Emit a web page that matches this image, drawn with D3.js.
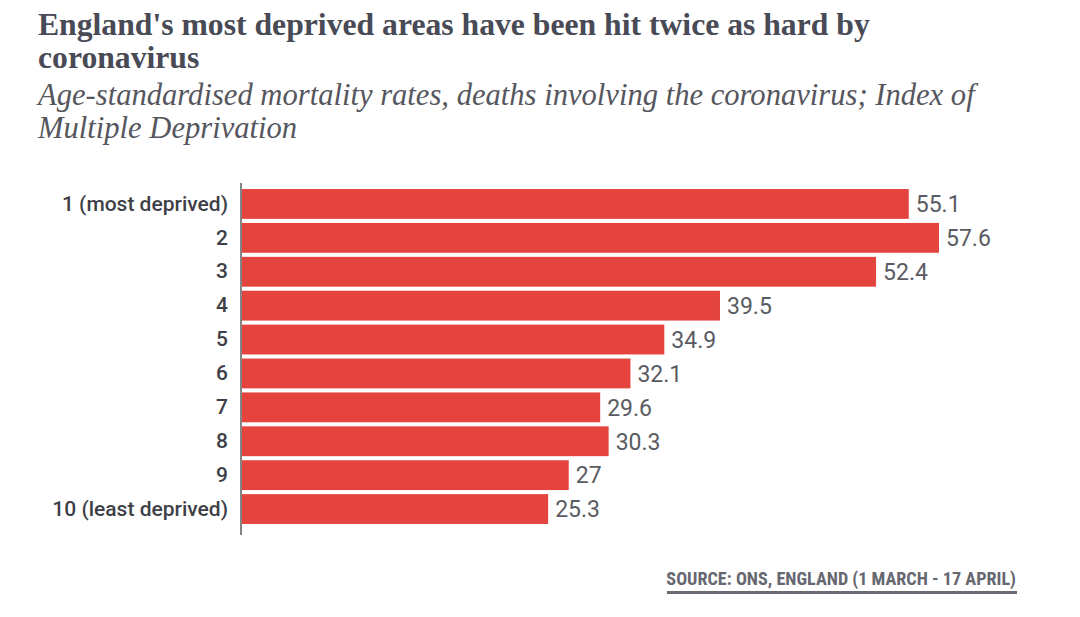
<!DOCTYPE html>
<html><head><meta charset="utf-8">
<script src="https://cdn.jsdelivr.net/npm/d3@7"></script>
<style>
body{margin:0;background:#fff;}
svg{display:block;}
</style></head>
<body>
<svg id="chart" width="1080" height="617"></svg>
<script>
const categories = ["1 (most deprived)","2","3","4","5","6","7","8","9","10 (least deprived)"];
const values = [55.1,57.6,52.4,39.5,34.9,32.1,29.6,30.3,27,25.3];
const valueLabels = ["55.1","57.6","52.4","39.5","34.9","32.1","29.6","30.3","27","25.3"];
const titleLines = ["England's most deprived areas have been hit twice as hard by","coronavirus"];
const subtitleLines = ["Age-standardised mortality rates, deaths involving the coronavirus; Index of","Multiple Deprivation"];
const sourceText = "SOURCE: ONS, ENGLAND (1 MARCH - 17 APRIL)";

const svg = d3.select("#chart");
const condensed = "'Liberation Sans Narrow','Roboto Condensed','Roboto',sans-serif";
const sans = "'Roboto','Noto Sans',sans-serif";
const serif = "'Liberation Serif','DejaVu Serif',serif";

function fitText(sel, target){
  const w = sel.node().getComputedTextLength();
  const fs = parseFloat(sel.attr("font-size"));
  sel.attr("font-size", fs*target/w);
}

const t1 = svg.append("text").attr("x",38).attr("y",35).attr("font-family",serif).attr("font-weight","bold")
  .attr("font-size",27).attr("fill","#484a56").text(titleLines[0]);
fitText(t1, 832);
const fsT = t1.attr("font-size");
svg.append("text").attr("x",38).attr("y",68).attr("font-family",serif).attr("font-weight","bold")
  .attr("font-size",fsT).attr("fill","#484a56").text(titleLines[1]);

const s1 = svg.append("text").attr("x",38).attr("y",105).attr("font-family",serif).attr("font-style","italic")
  .attr("font-size",27).attr("fill","#55565e").text(subtitleLines[0]);
fitText(s1, 937);
const fsS = s1.attr("font-size");
svg.append("text").attr("x",38).attr("y",138).attr("font-family",serif).attr("font-style","italic")
  .attr("font-size",fsS).attr("fill","#55565e").text(subtitleLines[1]);

const x0 = 242;
const x = d3.scaleLinear().domain([0,57.6]).range([x0, 939]);
const y = d3.scaleBand().domain(categories).range([187, 526]).paddingInner(0.12).paddingOuter(0.06);

const g = svg.append("g");
g.selectAll("rect.bar").data(values).enter().append("rect")
  .attr("class","bar")
  .attr("x", x(0))
  .attr("y",(d,i)=>y(categories[i]))
  .attr("width", d=>x(d)-x(0))
  .attr("height", y.bandwidth())
  .attr("fill","#e4443d");

g.selectAll("text.val").data(values).enter().append("text")
  .attr("class","val")
  .attr("x", d=>x(d)+7)
  .attr("y",(d,i)=>y(categories[i])+y.bandwidth()/2)
  .attr("dy","0.36em")
  .attr("font-family",sans)
  .attr("font-size",23)
  .attr("fill","#5a5b62")
  .text((d,i)=>valueLabels[i]);

const yAxis = d3.axisLeft(y).tickSize(0).tickPadding(13);
const ax = svg.append("g").attr("transform",`translate(${x0-1},0)`).call(yAxis);
ax.select(".domain").remove();
ax.selectAll("text").attr("font-family",sans).attr("font-size",21).attr("font-weight",500).attr("fill","#3e3f47");
svg.append("line").attr("x1",x0-1).attr("x2",x0-1).attr("y1",183).attr("y2",535)
  .attr("stroke","#333").attr("stroke-width",1.2);

const src = svg.append("text").attr("x",1016).attr("y",585).attr("text-anchor","end")
  .attr("font-family",condensed).attr("font-weight","bold").attr("font-size",16)
  .attr("fill","#666770").text(sourceText);
fitText(src, 350);
svg.append("rect").attr("x",667).attr("y",591).attr("width",350).attr("height",3).attr("fill","#6a6b72");
</script>
</body></html>
